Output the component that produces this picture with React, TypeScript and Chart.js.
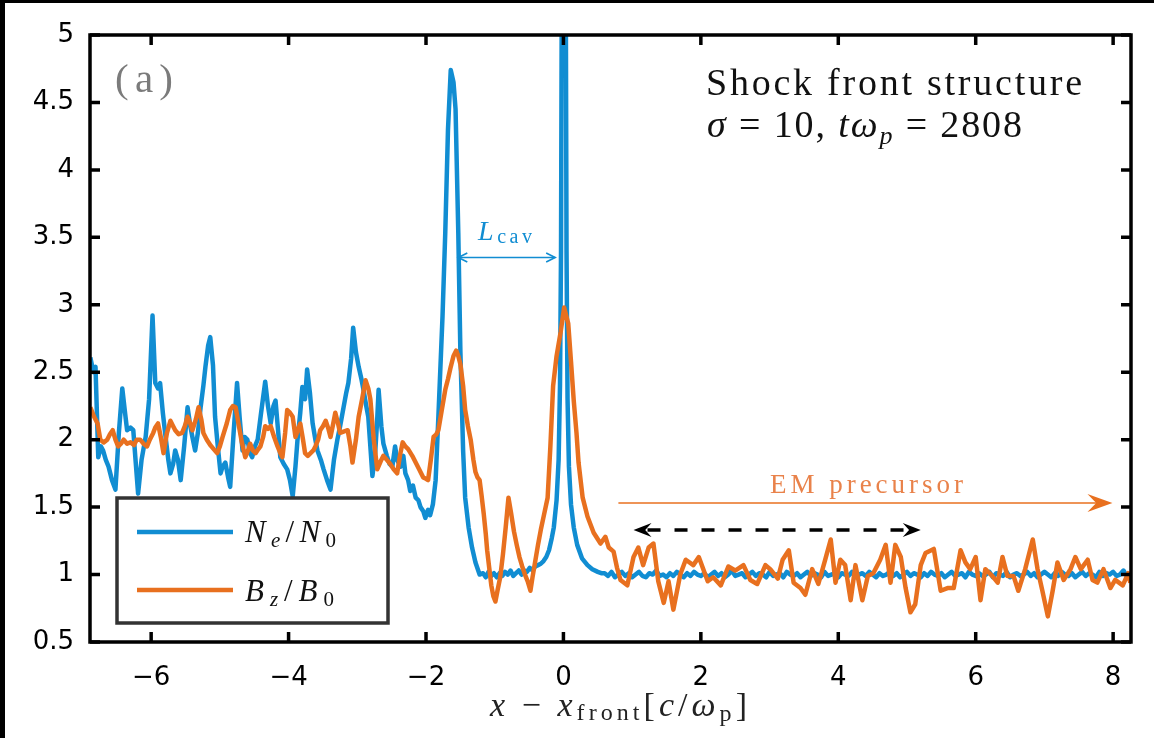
import React, { useEffect, useRef } from "react";
import { Chart, registerables } from "chart.js";

Chart.register(...registerables);

// ---- axes ----
const X_MIN = -6.89;
const X_MAX = 8.26;
const Y_MIN = 0.5;
const Y_MAX = 5;
const xTicks = [-6, -4, -2, 0, 2, 4, 6, 8];
const yTicks = [0.5, 1, 1.5, 2, 2.5, 3, 3.5, 4, 4.5, 5];

// ---- electron density N_e/N_0 : downstream, cavity and the two density peaks ----
const neHead: [number, number][] = [
  [-6.885, 2.61], [-6.84, 2.5], [-6.81, 2.54], [-6.77, 1.87], [-6.73, 1.95], [-6.7, 1.92],
  [-6.66, 1.85], [-6.62, 1.8], [-6.57, 1.7], [-6.52, 1.63], [-6.47, 2.05], [-6.42, 2.38],
  [-6.38, 2.2], [-6.35, 2.07], [-6.3, 2.09], [-6.26, 2.07], [-6.22, 1.8], [-6.19, 1.6],
  [-6.14, 1.85], [-6.08, 2.02], [-6.03, 2.3], [-5.98, 2.92], [-5.94, 2.42], [-5.9, 2.38],
  [-5.87, 2.42], [-5.83, 2.2], [-5.79, 2.02], [-5.75, 1.85], [-5.72, 1.75], [-5.68, 1.82],
  [-5.65, 1.92], [-5.61, 1.85], [-5.57, 1.7], [-5.52, 1.95], [-5.47, 2.24], [-5.43, 2.1],
  [-5.4, 2.02], [-5.36, 1.92], [-5.32, 2.05], [-5.28, 2.24], [-5.24, 2.4], [-5.21, 2.54],
  [-5.17, 2.7], [-5.14, 2.76], [-5.1, 2.55], [-5.07, 2.17], [-5.03, 1.95], [-4.99, 1.75],
  [-4.96, 1.8], [-4.92, 1.83], [-4.88, 1.72], [-4.85, 1.65], [-4.8, 2.05], [-4.75, 2.42],
  [-4.71, 2.15], [-4.67, 1.92], [-4.64, 2.02], [-4.6, 2.0], [-4.56, 1.9], [-4.53, 1.87],
  [-4.49, 1.95], [-4.45, 2.0], [-4.4, 2.2], [-4.34, 2.43], [-4.3, 2.25], [-4.26, 2.12],
  [-4.22, 2.25], [-4.19, 2.29], [-4.15, 2.05], [-4.12, 1.87], [-4.07, 1.82], [-4.02, 1.78],
  [-3.98, 1.7], [-3.94, 1.58], [-3.9, 1.8], [-3.87, 2.0], [-3.83, 2.2], [-3.8, 2.39],
  [-3.76, 2.3], [-3.73, 2.52], [-3.69, 2.35], [-3.65, 2.12], [-3.61, 2.0], [-3.58, 1.92],
  [-3.53, 1.85], [-3.49, 1.78], [-3.44, 1.7], [-3.39, 1.63], [-3.34, 1.85], [-3.29, 2.0],
  [-3.25, 2.1], [-3.2, 2.24], [-3.16, 2.35], [-3.13, 2.42], [-3.09, 2.6], [-3.06, 2.83],
  [-3.02, 2.65], [-2.98, 2.54], [-2.94, 2.45], [-2.91, 2.37], [-2.87, 2.25], [-2.84, 2.17],
  [-2.81, 1.95], [-2.78, 1.73], [-2.74, 1.9], [-2.71, 2.15], [-2.69, 2.37], [-2.65, 2.1],
  [-2.62, 1.97], [-2.57, 1.88], [-2.53, 1.82], [-2.49, 1.8], [-2.45, 1.95], [-2.42, 1.85],
  [-2.37, 1.8], [-2.33, 1.88], [-2.3, 1.75], [-2.26, 1.7], [-2.23, 1.62], [-2.19, 1.66],
  [-2.15, 1.57], [-2.11, 1.55], [-2.08, 1.5], [-2.04, 1.47], [-2.01, 1.42], [-1.97, 1.48],
  [-1.94, 1.44], [-1.9, 1.52], [-1.86, 1.7], [-1.82, 2.17], [-1.76, 2.91], [-1.72, 3.53],
  [-1.68, 4.3], [-1.64, 4.74], [-1.6, 4.65], [-1.57, 4.45], [-1.53, 3.53], [-1.5, 2.66],
  [-1.46, 1.92], [-1.43, 1.57], [-1.38, 1.35], [-1.33, 1.2], [-1.28, 1.09], [-1.22, 1.0],
  [-1.17, 1.01], [-1.13, 0.98], [-1.09, 1.02], [-1.05, 0.99], [-1.01, 1.01], [-0.97, 0.98],
  [-0.93, 1.01], [-0.89, 0.99], [-0.85, 1.02], [-0.81, 1.0], [-0.77, 1.03], [-0.73, 0.99],
  [-0.69, 1.01], [-0.65, 1.03], [-0.61, 1.0], [-0.57, 1.03], [-0.53, 1.02], [-0.49, 1.05],
  [-0.45, 1.03], [-0.41, 1.06], [-0.37, 1.07], [-0.33, 1.08], [-0.29, 1.1], [-0.25, 1.13],
  [-0.21, 1.18], [-0.17, 1.27], [-0.14, 1.35], [-0.1, 1.55], [-0.07, 1.85], [-0.05, 2.4],
  [-0.035, 3.4], [-0.015, 7.0], [0.025, 7.0], [0.045, 3.4], [0.06, 2.3], [0.08, 1.8],
  [0.11, 1.52], [0.15, 1.35], [0.2, 1.22], [0.27, 1.12], [0.35, 1.07], [0.42, 1.04],
  [0.5, 1.02], [0.55, 1.01],
];

// ---- N_e/N_0 upstream of the front, sampled every 0.05 c/ω_p from x = 0.60 ----
const NE_TAIL_START = 0.6;
const NE_TAIL_STEP = 0.05;
const neTail = [
  1.01, 0.99, 1.02, 0.98, 1.0, 1.02, 0.99, 1.01, 0.98, 1.0,
  1.02, 0.99, 0.98, 1.01, 1.0, 1.03, 0.99, 1.0, 0.98, 1.01,
  0.99, 1.02, 1.0, 0.98, 1.01, 0.99, 1.02, 1.0, 0.99, 1.01,
  0.98, 1.0, 1.02, 0.99, 1.01, 0.98, 1.0, 1.03, 0.99, 1.0,
  1.01, 0.98, 1.0, 1.02, 0.99, 1.01, 1.0, 0.98, 1.02, 0.99,
  1.0, 1.01, 0.98, 1.02, 1.0, 0.99, 1.01, 0.98, 1.0, 1.02,
  0.99, 1.01, 1.0, 0.98, 1.02, 0.99, 1.0, 1.01, 0.98, 1.01,
  1.0, 0.99, 1.02, 0.98, 1.0, 1.01, 0.99, 1.02, 1.0, 0.98,
  1.01, 0.99, 1.0, 1.02, 0.99, 1.01, 0.98, 1.0, 1.02, 0.99,
  1.01, 1.0, 0.98, 1.01, 0.99, 1.02, 1.0, 0.99, 1.01, 0.98,
  1.0, 1.02, 0.99, 1.0, 1.01, 0.98, 1.02, 1.0, 0.99, 1.01,
  0.99, 1.0, 1.02, 0.98, 1.01, 1.0, 0.99, 1.02, 0.98, 1.0,
  1.01, 0.99, 1.0, 1.02, 0.99, 1.01, 0.98, 1.0, 1.02, 1.0,
  0.98, 1.01, 0.99, 1.02, 1.0, 0.99, 1.01, 0.98, 1.0, 1.02,
  0.99, 1.01, 1.0, 0.98, 1.02, 0.99, 1.01, 1.0, 1.02, 0.99,
  1.0, 1.03, 0.99, 1.01,
];

// ---- magnetic field B_z/B_0 ----
const bzDown: [number, number][] = [
  [-6.885, 2.24], [-6.83, 2.17], [-6.78, 2.12], [-6.74, 2.0], [-6.69, 1.98], [-6.64, 2.0],
  [-6.6, 2.04], [-6.56, 2.07], [-6.52, 2.0], [-6.48, 1.95], [-6.44, 1.97], [-6.4, 2.0],
  [-6.35, 1.97], [-6.3, 1.98], [-6.25, 1.96], [-6.21, 2.0], [-6.16, 2.0], [-6.11, 1.97],
  [-6.06, 1.95], [-6.02, 2.0], [-5.97, 2.05], [-5.94, 2.09], [-5.9, 2.12], [-5.86, 2.02],
  [-5.82, 1.9], [-5.77, 2.05], [-5.72, 2.14], [-5.68, 2.1], [-5.65, 2.07], [-5.6, 2.04],
  [-5.55, 2.05], [-5.51, 2.1], [-5.47, 2.17], [-5.43, 2.12], [-5.4, 2.07], [-5.35, 2.15],
  [-5.31, 2.24], [-5.27, 2.15], [-5.24, 2.05], [-5.19, 2.0], [-5.14, 1.96], [-5.09, 1.93],
  [-5.04, 1.9], [-5.0, 1.95], [-4.96, 2.02], [-4.9, 2.12], [-4.85, 2.22], [-4.81, 2.25],
  [-4.77, 2.24], [-4.73, 2.12], [-4.68, 1.98], [-4.63, 1.87], [-4.59, 1.92], [-4.56, 1.97],
  [-4.52, 1.92], [-4.48, 1.9], [-4.44, 1.93], [-4.41, 1.95], [-4.37, 2.02], [-4.34, 2.1],
  [-4.3, 2.08], [-4.26, 2.1], [-4.21, 2.02], [-4.16, 1.95], [-4.12, 1.9], [-4.09, 1.87],
  [-4.05, 2.05], [-4.02, 2.22], [-3.98, 2.2], [-3.94, 2.17], [-3.9, 2.02], [-3.86, 2.08],
  [-3.83, 2.12], [-3.79, 2.0], [-3.76, 1.9], [-3.72, 1.88], [-3.68, 1.9], [-3.64, 1.92],
  [-3.61, 1.95], [-3.57, 2.0], [-3.54, 2.07], [-3.5, 2.1], [-3.46, 2.14], [-3.42, 2.08],
  [-3.39, 2.02], [-3.35, 2.12], [-3.32, 2.2], [-3.28, 2.12], [-3.25, 2.05], [-3.2, 2.06],
  [-3.14, 2.07], [-3.1, 1.95], [-3.07, 1.83], [-3.02, 2.0], [-2.98, 2.17], [-2.93, 2.3],
  [-2.88, 2.44], [-2.84, 2.38], [-2.81, 2.3], [-2.76, 2.0], [-2.71, 1.78], [-2.66, 1.84],
  [-2.62, 1.88], [-2.57, 1.85], [-2.52, 1.82], [-2.47, 1.78], [-2.42, 1.75], [-2.38, 1.88],
  [-2.34, 1.98], [-2.3, 1.95], [-2.26, 1.93], [-2.2, 1.88], [-2.15, 1.83], [-2.1, 1.78],
  [-2.04, 1.72], [-2.0, 1.71], [-1.97, 1.7], [-1.93, 1.85], [-1.89, 2.02], [-1.85, 2.04],
  [-1.82, 2.07], [-1.77, 2.22], [-1.72, 2.37], [-1.68, 2.45], [-1.64, 2.54], [-1.6, 2.62],
  [-1.56, 2.66], [-1.53, 2.62], [-1.5, 2.56], [-1.46, 2.4], [-1.43, 2.22], [-1.39, 2.1],
  [-1.35, 2.0], [-1.31, 1.85], [-1.28, 1.76], [-1.25, 1.72], [-1.22, 1.7], [-1.19, 1.58],
  [-1.16, 1.45], [-1.13, 1.3], [-1.11, 1.18], [-1.08, 1.05], [-1.05, 0.92], [-1.02, 0.84],
  [-0.99, 0.8], [-0.96, 0.88], [-0.92, 0.98], [-0.88, 1.15], [-0.84, 1.35], [-0.8, 1.57],
  [-0.76, 1.45], [-0.72, 1.32], [-0.68, 1.22], [-0.64, 1.13], [-0.6, 1.06], [-0.56, 1.0],
  [-0.52, 0.95], [-0.48, 0.88], [-0.45, 0.98], [-0.41, 1.1], [-0.37, 1.22], [-0.33, 1.33],
  [-0.28, 1.45], [-0.23, 1.57], [-0.19, 1.95], [-0.15, 2.4], [-0.1, 2.62], [-0.04, 2.8],
  [0.01, 2.98], [0.07, 2.86], [0.11, 2.58], [0.15, 2.29], [0.19, 2.05], [0.22, 1.83],
  [0.28, 1.57], [0.35, 1.43], [0.44, 1.31], [0.54, 1.23],
];

// B_z/B_0 in the precursor region
const bzUp: [number, number][] = [
  [0.61, 1.28], [0.66, 1.2], [0.73, 1.17], [0.78, 1.05], [0.83, 0.96], [0.93, 0.92],
  [1.02, 1.13], [1.09, 1.2], [1.16, 1.07], [1.24, 1.2], [1.31, 1.23], [1.38, 0.95],
  [1.46, 0.79], [1.53, 0.95], [1.6, 0.74], [1.7, 1.0], [1.78, 1.11], [1.89, 1.07],
  [1.97, 1.13], [2.1, 0.95], [2.18, 0.98], [2.29, 0.92], [2.4, 1.06], [2.5, 1.03],
  [2.62, 1.07], [2.72, 0.96], [2.82, 0.93], [2.94, 1.07], [3.01, 1.04], [3.12, 0.97],
  [3.19, 1.11], [3.28, 1.18], [3.35, 0.94], [3.45, 0.9], [3.52, 0.85], [3.62, 1.04],
  [3.71, 0.93], [3.81, 1.11], [3.89, 1.26], [3.96, 0.94], [4.03, 1.11], [4.1, 1.07],
  [4.18, 0.81], [4.25, 1.07], [4.35, 0.81], [4.43, 0.99], [4.51, 1.01], [4.61, 1.11],
  [4.69, 1.22], [4.76, 0.94], [4.83, 1.22], [4.91, 1.13], [4.98, 0.9], [5.05, 0.72],
  [5.12, 0.78], [5.2, 1.07], [5.27, 1.16], [5.39, 1.19], [5.49, 0.88], [5.59, 0.9],
  [5.68, 0.9], [5.78, 1.18], [5.85, 1.09], [5.92, 1.04], [6.0, 1.13], [6.07, 0.81],
  [6.14, 1.04], [6.24, 0.99], [6.32, 0.94], [6.39, 1.13], [6.46, 0.99], [6.55, 0.99],
  [6.62, 0.88], [6.72, 1.04], [6.83, 1.26], [6.9, 1.04], [6.97, 0.88], [7.05, 0.69],
  [7.12, 0.88], [7.19, 1.09], [7.28, 0.96], [7.38, 1.04], [7.45, 1.13], [7.53, 1.04],
  [7.63, 1.11], [7.7, 0.96], [7.77, 0.94], [7.86, 1.04], [7.96, 0.9], [8.03, 0.96],
  [8.14, 0.92], [8.22, 1.01], [8.25, 0.94],
];

// ---- annotation anchors (data units) ----
const lcavFrom = -1.53;
const lcavTo = -0.12;
const lcavLevel = 3.35;
const emFrom = 0.8;
const emTo = 7.99;
const emLevel = 1.53;
const dashFrom = 1.02;
const dashTo = 5.2;
const dashLevel = 1.33;

const BLUE = "#118dd2";
const ORANGE = "#e8701f";
const SERIF = '"Liberation Serif", "Times New Roman", serif';

type Run = { t: string; size: number; italic?: boolean; dy?: number };

// Draws a sequence of text runs so that it spans exactly `width` pixels,
// spreading the spare room evenly between glyphs.
function drawRuns(
  ctx: CanvasRenderingContext2D,
  runs: Run[],
  left: number,
  baseline: number,
  width: number,
  color: string
) {
  const glyphs: { ch: string; font: string; dy: number; w: number }[] = [];
  for (const r of runs) {
    const font = `${r.italic ? "italic " : ""}${r.size}px ${SERIF}`;
    ctx.font = font;
    for (const ch of Array.from(r.t)) {
      glyphs.push({ ch, font, dy: r.dy || 0, w: ctx.measureText(ch).width });
    }
  }
  const natural = glyphs.reduce((s, g) => s + g.w, 0);
  const gap = glyphs.length > 1 ? (width - natural) / (glyphs.length - 1) : 0;
  ctx.save();
  ctx.fillStyle = color;
  ctx.textBaseline = "alphabetic";
  ctx.textAlign = "left";
  let x = left;
  for (const g of glyphs) {
    ctx.font = g.font;
    ctx.fillText(g.ch, x, baseline + g.dy);
    x += g.w + gap;
  }
  ctx.restore();
}

function stealthHead(
  ctx: CanvasRenderingContext2D,
  tipX: number,
  y: number,
  dir: number,
  len: number,
  half: number
) {
  ctx.beginPath();
  ctx.moveTo(tipX, y);
  ctx.lineTo(tipX - dir * len, y - half);
  ctx.lineTo(tipX - dir * len * 0.65, y);
  ctx.lineTo(tipX - dir * len, y + half);
  ctx.closePath();
  ctx.fill();
}

function openHead(
  ctx: CanvasRenderingContext2D,
  tipX: number,
  y: number,
  dir: number,
  len: number,
  half: number
) {
  ctx.beginPath();
  ctx.moveTo(tipX - dir * len, y - half);
  ctx.lineTo(tipX, y);
  ctx.lineTo(tipX - dir * len, y + half);
  ctx.stroke();
}

const decorations = {
  id: "decorations",
  beforeDraw(chart: any) {
    const { ctx, width, height } = chart;
    ctx.save();
    ctx.fillStyle = "#000";
    ctx.fillRect(0, 0, width, height);
    ctx.fillStyle = "#fff";
    ctx.fillRect(5, 3, width - 5, height - 3);
    ctx.restore();
  },
  afterDatasetsDraw(chart: any) {
    const { ctx, chartArea: a, scales } = chart;
    const xs = scales.x;
    const ys = scales.y;

    ctx.save();

    // axes box
    ctx.strokeStyle = "#000";
    ctx.lineWidth = 3.5;
    ctx.strokeRect(a.left, a.top, a.right - a.left, a.bottom - a.top);

    // inward tick marks on all four sides
    const TL = 10;
    ctx.lineWidth = 3.5;
    ctx.beginPath();
    for (const v of xTicks) {
      const px = xs.getPixelForValue(v);
      ctx.moveTo(px, a.bottom);
      ctx.lineTo(px, a.bottom - TL);
      ctx.moveTo(px, a.top);
      ctx.lineTo(px, a.top + TL);
    }
    for (const v of yTicks) {
      const py = ys.getPixelForValue(v);
      ctx.moveTo(a.left, py);
      ctx.lineTo(a.left + TL, py);
      ctx.moveTo(a.right, py);
      ctx.lineTo(a.right - TL, py);
    }
    ctx.stroke();

    // cavity length arrow
    const ly = ys.getPixelForValue(lcavLevel);
    const l0 = xs.getPixelForValue(lcavFrom);
    const l1 = xs.getPixelForValue(lcavTo);
    ctx.strokeStyle = BLUE;
    ctx.lineWidth = 1.6;
    ctx.beginPath();
    ctx.moveTo(l0, ly);
    ctx.lineTo(l1, ly);
    ctx.stroke();
    openHead(ctx, l0, ly, -1, 9, 4.5);
    openHead(ctx, l1, ly, 1, 9, 4.5);
    drawRuns(
      ctx,
      [
        { t: "L", size: 28, italic: true },
        { t: "cav", size: 20, dy: 3 },
      ],
      478,
      240,
      54,
      BLUE
    );

    // EM precursor arrow
    const ey = ys.getPixelForValue(emLevel);
    const e0 = xs.getPixelForValue(emFrom);
    const e1 = xs.getPixelForValue(emTo);
    ctx.strokeStyle = ORANGE;
    ctx.fillStyle = ORANGE;
    ctx.lineWidth = 1.6;
    ctx.beginPath();
    ctx.moveTo(e0, ey);
    ctx.lineTo(e1 - 10, ey);
    ctx.stroke();
    stealthHead(ctx, e1, ey, 1, 25, 9);
    drawRuns(ctx, [{ t: "EM precursor", size: 27 }], 770, 493, 193, "#e9824a");

    // dashed double arrow
    const dy = ys.getPixelForValue(dashLevel);
    const d0 = xs.getPixelForValue(dashFrom);
    const d1 = xs.getPixelForValue(dashTo);
    ctx.strokeStyle = "#000";
    ctx.fillStyle = "#000";
    ctx.lineWidth = 3.5;
    ctx.setLineDash([13, 14]);
    ctx.beginPath();
    ctx.moveTo(d0 + 14, dy);
    ctx.lineTo(d1 - 14, dy);
    ctx.stroke();
    ctx.setLineDash([]);
    stealthHead(ctx, d0, dy, -1, 18, 7);
    stealthHead(ctx, d1, dy, 1, 18, 7);

    // panel label and run description
    drawRuns(ctx, [{ t: "(a)", size: 41 }], 115, 92, 58, "#7b7b7b");
    drawRuns(ctx, [{ t: "Shock front structure", size: 38 }], 706, 95, 376, "#111");
    drawRuns(
      ctx,
      [
        { t: "σ", size: 38, italic: true },
        { t: " = 10, ", size: 38 },
        { t: "tω", size: 38, italic: true },
        { t: "p", size: 26, italic: true, dy: 7 },
        { t: " = 2808", size: 38 },
      ],
      707,
      137,
      315,
      "#111"
    );

    // legend
    ctx.fillStyle = "#fff";
    ctx.fillRect(117, 498, 271, 125);
    ctx.strokeStyle = "#333";
    ctx.lineWidth = 3.5;
    ctx.strokeRect(117, 498, 271, 125);
    ctx.lineWidth = 4.5;
    ctx.strokeStyle = BLUE;
    ctx.beginPath();
    ctx.moveTo(137, 532);
    ctx.lineTo(233, 532);
    ctx.stroke();
    ctx.strokeStyle = ORANGE;
    ctx.beginPath();
    ctx.moveTo(137, 590);
    ctx.lineTo(233, 590);
    ctx.stroke();
    drawRuns(
      ctx,
      [
        { t: "N", size: 31, italic: true },
        { t: "e", size: 21, italic: true, dy: 5 },
        { t: "/", size: 31 },
        { t: "N", size: 31, italic: true },
        { t: "0", size: 21, dy: 5 },
      ],
      245,
      542,
      91,
      "#111"
    );
    drawRuns(
      ctx,
      [
        { t: "B", size: 31, italic: true },
        { t: "z", size: 21, italic: true, dy: 5 },
        { t: "/", size: 31 },
        { t: "B", size: 31, italic: true },
        { t: "0", size: 21, dy: 5 },
      ],
      245,
      601,
      89,
      "#111"
    );

    // x-axis title
    drawRuns(
      ctx,
      [
        { t: "x", size: 34, italic: true },
        { t: " − ", size: 34 },
        { t: "x", size: 34, italic: true },
        { t: "front", size: 24, dy: 4 },
        { t: "[", size: 34 },
        { t: "c", size: 34, italic: true },
        { t: "/", size: 34 },
        { t: "ω", size: 34, italic: true },
        { t: "p", size: 24, dy: 5 },
        { t: "]", size: 34 },
      ],
      490,
      716,
      257,
      "#222"
    );

    ctx.restore();
  },
};

export default function App() {
  const canvasRef = useRef<HTMLCanvasElement | null>(null);

  useEffect(() => {
    const canvas = canvasRef.current;
    if (!canvas) return;

    const nePoints = [
      ...neHead.map(([x, y]) => ({ x, y })),
      ...neTail.map((y, i) => ({ x: NE_TAIL_START + i * NE_TAIL_STEP, y })),
    ];
    const bzPoints = [...bzDown, ...bzUp].map(([x, y]) => ({ x, y }));

    const chart = new Chart(canvas, {
      type: "line",
      data: {
        datasets: [
          {
            label: "N_e/N_0",
            data: nePoints,
            borderColor: BLUE,
            borderWidth: 4.5,
            pointRadius: 0,
            tension: 0,
            borderJoinStyle: "round",
            order: 2,
          },
          {
            label: "B_z/B_0",
            data: bzPoints,
            borderColor: ORANGE,
            borderWidth: 4.5,
            pointRadius: 0,
            tension: 0,
            borderJoinStyle: "round",
            order: 1,
          },
        ],
      },
      options: {
        responsive: false,
        devicePixelRatio: 1,
        animation: false,
        events: [],
        layout: { padding: { left: 5, top: 35, right: 23, bottom: 0 } },
        plugins: {
          legend: { display: false },
          tooltip: { enabled: false },
        },
        scales: {
          x: {
            type: "linear",
            min: X_MIN,
            max: X_MAX,
            grid: { display: false },
            border: { display: false },
            afterBuildTicks: (s: any) => {
              s.ticks = xTicks.map((value) => ({ value }));
            },
            afterFit: (s: any) => {
              s.height = 96;
            },
            ticks: {
              padding: 13,
              color: "#000",
              maxRotation: 0,
              font: { family: '"DejaVu Sans"', size: 26 },
              callback: (v: any) => (Number(v) < 0 ? "−" + Math.abs(Number(v)) : String(v)),
            },
          },
          y: {
            type: "linear",
            min: Y_MIN,
            max: Y_MAX,
            grid: { display: false },
            border: { display: false },
            afterBuildTicks: (s: any) => {
              s.ticks = yTicks.map((value) => ({ value }));
            },
            afterFit: (s: any) => {
              s.width = 85;
            },
            ticks: {
              padding: 8,
              color: "#000",
              font: { family: '"DejaVu Sans"', size: 26 },
              callback: (v: any) => String(v),
            },
          },
        },
      },
      plugins: [decorations],
    });

    return () => chart.destroy();
  }, []);

  return (
    <div style={{ position: "fixed", left: 0, top: 0, width: 1154, height: 738 }}>
      <canvas ref={canvasRef} width={1154} height={738} style={{ display: "block" }} />
    </div>
  );
}
